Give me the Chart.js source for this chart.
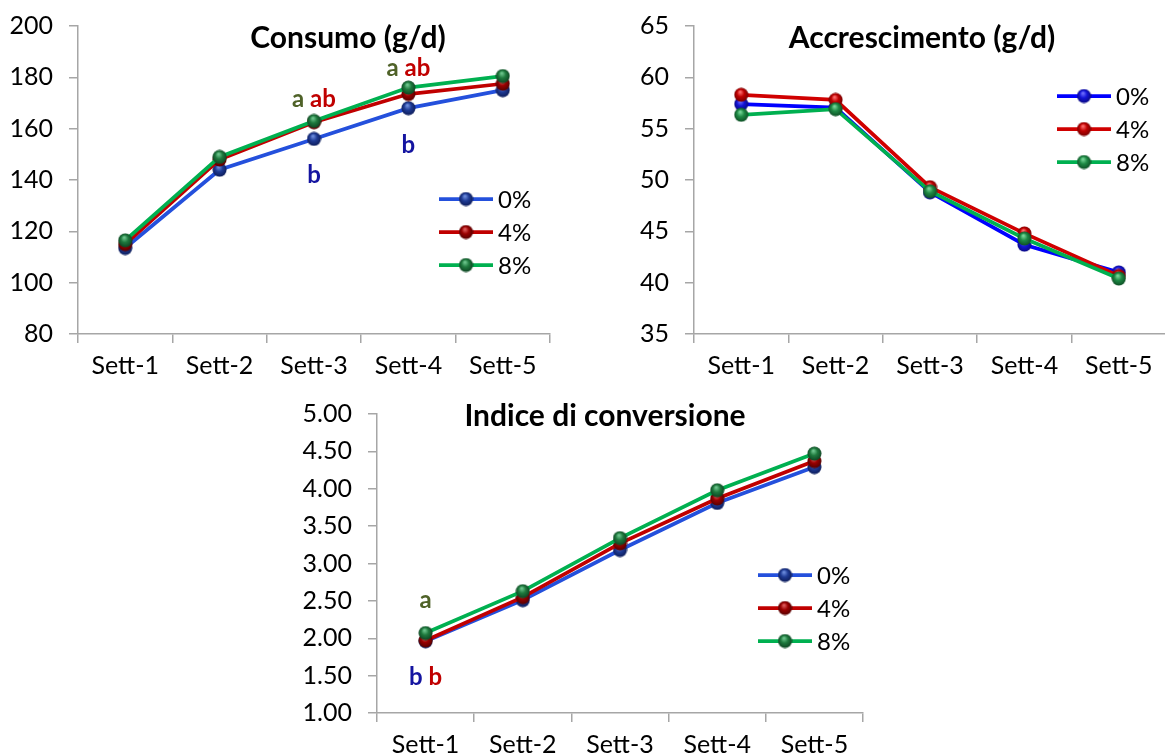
<!DOCTYPE html>
<html lang="it">
<head>
<meta charset="utf-8">
<title>Consumo, accrescimento e indice di conversione</title>
<script src="https://cdn.jsdelivr.net/npm/chart.js@4.4.1/dist/chart.umd.min.js"></script>
<style>
  body { margin: 0; background: #fff; font-family: Lato, sans-serif; }
  #pagina { position: relative; width: 1165px; height: 756px; overflow: hidden; }
  canvas { position: absolute; }
  .titolo { position: absolute; font-weight: bold; font-size: 30px; color: #000; white-space: nowrap; transform: translate(-50%, -50%); line-height: 1; }
</style>
</head>
<body>
<div id="pagina">
  <canvas id="consumo" width="580" height="380" style="left:0;top:0"></canvas>
  <canvas id="accrescimento" width="582" height="380" style="left:585px;top:0"></canvas>
  <canvas id="conversione" width="580" height="376" style="left:290px;top:380px"></canvas>
  <div class="titolo" style="left:348px;top:36px">Consumo (g/d)</div>
  <div class="titolo" style="left:922px;top:36px">Accrescimento (g/d)</div>
  <div class="titolo" style="left:605px;top:414px">Indice di conversione</div>
</div>
<script>
const settimane = ["Sett-1", "Sett-2", "Sett-3", "Sett-4", "Sett-5"];
const livelli = ["0%", "4%", "8%"];

const consumo0 = [113.5, 144, 156, 168, 175];
const consumo4 = [115, 148, 162.5, 173.5, 177.5];
const consumo8 = [116.5, 149, 163, 176, 180.5];

const accr0 = [57.4, 57.05, 48.8, 43.7, 41.0];
const accr4 = [58.3, 57.8, 49.3, 44.8, 40.65];
const accr8 = [56.35, 56.9, 48.9, 44.3, 40.4];

const conv0 = [1.96, 2.51, 3.18, 3.81, 4.29];
const conv4 = [1.97, 2.55, 3.27, 3.87, 4.37];
const conv8 = [2.07, 2.63, 3.34, 3.98, 4.47];

// assi y: min, max, passo
const assiConsumo = [80, 200, 20];
const assiAccr = [35, 65, 5];
const assiConv = [1, 5, 0.5];

// lettere di significatività: settimana, quota (unità dell'asse), [serie, testo]
const lettereConsumo = [
  [2, 171.6, [[2, "a"], [1, "ab"]]],
  [3, 183.5, [[2, "a"], [1, "ab"]]],
  [2, 142, [[0, "b"]]],
  [3, 153.6, [[0, "b"]]]
];
const lettereConv = [
  [0, 2.51, [[2, "a"]]],
  [0, 1.48, [[0, "b"], [1, "b"]]]
];

const coloreLettere = ["#1414a0", "#c00000", "#4f6228"];
const grigio = "#a6a6a6";
const font = "Lato, sans-serif";

function sfera(base, chiaro, scuro) {
  const d = 15;
  const c = document.createElement("canvas");
  c.width = d;
  c.height = d;
  const g = c.getContext("2d");
  const r = d / 2;
  const grad = g.createRadialGradient(r * 0.85, r * 0.6, 0.5, r, r, r);
  grad.addColorStop(0, chiaro);
  grad.addColorStop(0.45, base);
  grad.addColorStop(1, scuro);
  g.fillStyle = grad;
  g.beginPath();
  g.arc(r, r, r - 0.5, 0, Math.PI * 2);
  g.fill();
  return c;
}

const marcatoriScuri = [
  sfera("#1f3b95", "#6f8fe0", "#0c1a55"),
  sfera("#9a0000", "#e06060", "#500000"),
  sfera("#1f7a3e", "#70c890", "#0c4020")
];
const marcatoriChiari = [
  sfera("#1414d8", "#7070ff", "#08087a"),
  sfera("#c00000", "#ff7070", "#700000"),
  sfera("#1f8a45", "#7ad89a", "#0c4a22")
];

const legendaInterna = {
  id: "legendaInterna",
  afterDraw(chart, args, opts) {
    const ctx = chart.ctx;
    ctx.save();
    ctx.font = "24px " + font;
    ctx.textBaseline = "middle";
    ctx.fillStyle = "#000";
    chart.data.datasets.forEach((ds, i) => {
      const y = opts.y + i * opts.passo;
      ctx.strokeStyle = ds.borderColor;
      ctx.lineWidth = 3.75;
      ctx.beginPath();
      ctx.moveTo(opts.x, y);
      ctx.lineTo(opts.x + 54, y);
      ctx.stroke();
      const m = ds.pointStyle;
      ctx.drawImage(m, opts.x + 27 - m.width / 2, y - m.height / 2);
      ctx.fillText(ds.label, opts.x + 59, y + 1);
    });
    ctx.restore();
  }
};

const lettere = {
  id: "lettere",
  afterDatasetsDraw(chart, args, opts) {
    if (!opts.elenco) return;
    const ctx = chart.ctx;
    const xs = chart.scales.x, ys = chart.scales.y;
    ctx.save();
    ctx.font = "bold 24px " + font;
    ctx.textBaseline = "middle";
    ctx.textAlign = "left";
    opts.elenco.forEach(([cat, quota, parti]) => {
      const testo = parti.map(p => p[1]).join(" ");
      let x = xs.getPixelForValue(cat) - ctx.measureText(testo).width / 2;
      const y = ys.getPixelForValue(quota);
      parti.forEach(([serie, t]) => {
        ctx.fillStyle = coloreLettere[serie];
        ctx.fillText(t, x, y);
        x += ctx.measureText(t + " ").width;
      });
    });
    ctx.restore();
  }
};

function creaGrafico(id, serie, colori, marcatori, asse, dec, geo, elenco) {
  new Chart(document.getElementById(id), {
    type: "line",
    data: {
      labels: settimane,
      datasets: serie.map((valori, i) => ({
        label: livelli[i],
        data: valori,
        borderColor: colori[i],
        borderWidth: 3.75,
        pointStyle: marcatori[i],
        pointRadius: 7,
        tension: 0,
        order: 3 - i
      }))
    },
    options: {
      responsive: false,
      animation: false,
      events: [],
      layout: { autoPadding: false, padding: { left: 0, top: geo.top, right: geo.right, bottom: 0 } },
      plugins: {
        legend: { display: false },
        title: { display: false },
        tooltip: { enabled: false },
        legendaInterna: geo.legenda,
        lettere: { elenco }
      },
      scales: {
        x: {
          offset: true,
          afterFit: s => { s.height = geo.basso; s.paddingLeft = 0; s.paddingRight = 0; },
          grid: { offset: true, drawOnChartArea: false, drawTicks: true, tickLength: 9, color: grigio, lineWidth: 1.5 },
          border: { display: true, color: grigio, width: 1.5 },
          ticks: { color: "#000", padding: 8, font: { family: font, size: 25 }, maxRotation: 0 }
        },
        y: {
          min: asse[0],
          max: asse[1],
          afterFit: s => { s.width = geo.sinistra; s.paddingTop = 0; s.paddingBottom = 0; },
          grid: { drawOnChartArea: false, drawTicks: true, tickLength: 9, color: grigio, lineWidth: 1.5 },
          border: { display: true, color: grigio, width: 1.5 },
          ticks: {
            stepSize: asse[2],
            color: "#000",
            padding: 16,
            font: { family: font, size: 25 },
            callback: v => v.toFixed(dec)
          }
        }
      }
    },
    plugins: [legendaInterna, lettere]
  });
}

creaGrafico("consumo", [consumo0, consumo4, consumo8],
  ["#2450dc", "#c00000", "#00b050"], marcatoriScuri, assiConsumo, 0,
  { top: 26, right: 30, basso: 46, sinistra: 78, legenda: { x: 439, y: 199, passo: 33 } },
  lettereConsumo);

creaGrafico("accrescimento", [accr0, accr4, accr8],
  ["#0000ff", "#d00000", "#00b050"], marcatoriChiari, assiAccr, 0,
  { top: 26, right: 1, basso: 46, sinistra: 109, legenda: { x: 472, y: 96, passo: 33 } },
  null);

creaGrafico("conversione", [conv0, conv4, conv8],
  ["#2450dc", "#c00000", "#00b050"], marcatoriScuri, assiConv, 2,
  { top: 34, right: 7, basso: 43, sinistra: 87, legenda: { x: 468, y: 195, passo: 33 } },
  lettereConv);
</script>
</body>
</html>
